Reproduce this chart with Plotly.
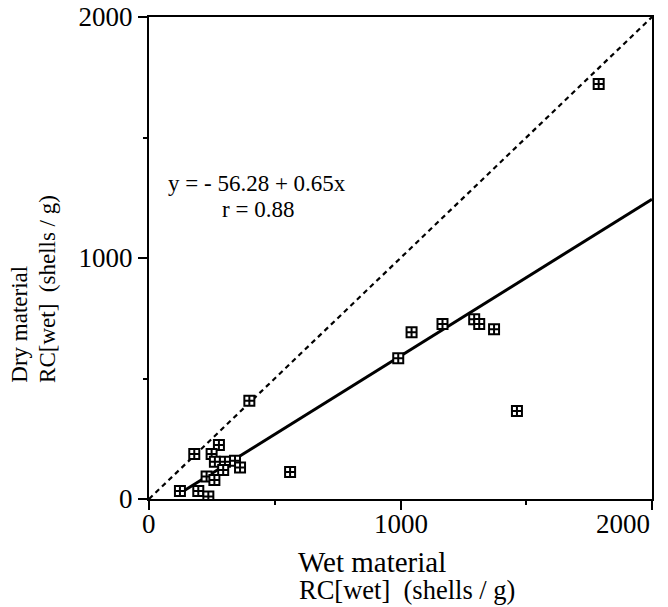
import plotly.graph_objects as go

# RC measured on wet material vs dry material (shells / g)
wet_rc = [278, 180, 249, 262, 302, 342, 362, 295, 229, 260, 123, 196, 236,
          561, 399, 991, 1044, 1167, 1293, 1313, 1372, 1463, 1788]
dry_rc = [224, 187, 187, 155, 155, 159, 131, 120, 93, 79, 33, 33, 10,
          112, 408, 584, 692, 726, 746, 726, 704, 365, 1722]

# Least-squares fit reported on the chart
intercept = -56.28
slope = 0.65
r_value = 0.88

axis_range = [0, 2000]
tick_values = [0, 1000, 2000]
tick_labels = ["0", "1000", "2000"]

serif = "Liberation Serif, Times New Roman, serif"

fit_x = [min(wet_rc), axis_range[1]]
fit_y = [intercept + slope * v for v in fit_x]

fig = go.Figure()

# 1:1 reference line
fig.add_trace(go.Scatter(
    x=axis_range, y=axis_range, mode="lines",
    line=dict(color="black", width=2.2, dash="5px,4px"),
    hoverinfo="skip", showlegend=False,
))

# Regression line
fig.add_trace(go.Scatter(
    x=fit_x, y=fit_y, mode="lines",
    line=dict(color="black", width=3),
    hoverinfo="skip", showlegend=False,
))

# Samples
fig.add_trace(go.Scatter(
    x=wet_rc, y=dry_rc, mode="markers",
    marker=dict(symbol="square-cross", size=10, color="white",
                line=dict(color="black", width=2)),
    showlegend=False,
))

tick_font = dict(family=serif, size=27, color="black")

axis_common = dict(
    range=axis_range,
    tickvals=tick_values,
    ticktext=tick_labels,
    ticks="outside",
    ticklen=9,
    tickwidth=2,
    tickcolor="black",
    showline=True,
    linecolor="black",
    linewidth=2,
    mirror=True,
    showgrid=False,
    zeroline=False,
    automargin=False,
    tickfont=tick_font,
    minor=dict(ticks="outside", ticklen=4, tickwidth=2, tickcolor="black",
               dtick=500, tick0=0, showgrid=False),
)

fig.update_layout(
    width=668, height=607,
    margin=dict(l=149, r=16, t=17, b=108),
    paper_bgcolor="white",
    plot_bgcolor="white",
    xaxis=dict(**axis_common, showticklabels=False),
    yaxis=dict(**axis_common),
    font=dict(family=serif, color="black"),
)

# x tick labels: the last one is kept inside the figure edge
for i, (val, lab) in enumerate(zip(tick_values, tick_labels)):
    fig.add_annotation(
        x=val, y=-0.052, xref="x", yref="paper",
        xanchor="right" if i == len(tick_values) - 1 else "center",
        yanchor="middle", text=lab, showarrow=False, font=tick_font,
    )

# Fit equation
fig.add_annotation(
    x=429, y=1311, xref="x", yref="y",
    text=f"y = - {abs(intercept):.2f} + {slope:.2f}x",
    showarrow=False,
    font=dict(family=serif, size=23, color="black"),
)
fig.add_annotation(
    x=433, y=1203, xref="x", yref="y",
    text=f"r = {r_value:.2f}",
    showarrow=False,
    font=dict(family=serif, size=23, color="black"),
)

# Axis titles (two left-aligned lines each)
fig.add_annotation(
    x=0.292, y=-0.131, xref="paper", yref="paper",
    xanchor="left", yanchor="middle",
    text="Wet material", showarrow=False,
    font=dict(family=serif, size=29, color="black"),
)
fig.add_annotation(
    x=0.294, y=-0.189, xref="paper", yref="paper",
    xanchor="left", yanchor="middle",
    text="RC[wet]  (shells / g)", showarrow=False,
    font=dict(family=serif, size=26.5, color="black"),
)

fig.add_annotation(
    x=-0.258, y=0.2365, xref="paper", yref="paper",
    xanchor="center", yanchor="bottom", textangle=-90,
    text="Dry material", showarrow=False,
    font=dict(family=serif, size=23, color="black"),
)
fig.add_annotation(
    x=-0.203, y=0.2365, xref="paper", yref="paper",
    xanchor="center", yanchor="bottom", textangle=-90,
    text="RC[wet]  (shells / g)", showarrow=False,
    font=dict(family=serif, size=23, color="black"),
)

fig.write_html("out.html")
